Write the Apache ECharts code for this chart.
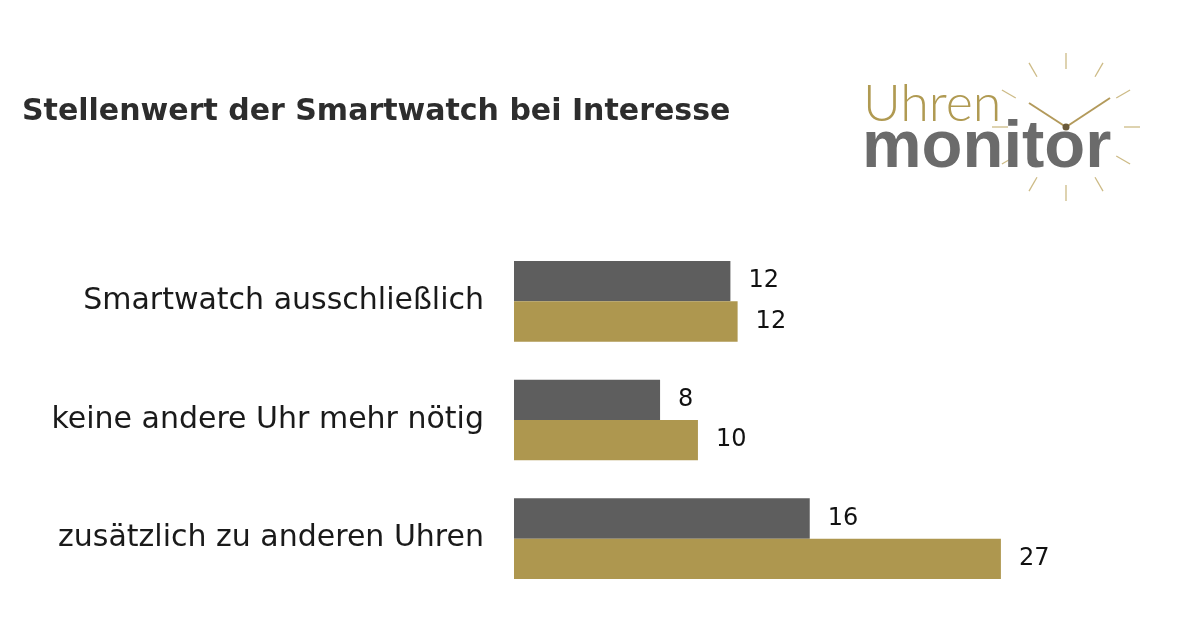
<!DOCTYPE html>
<html><head><meta charset="utf-8">
<script src="https://cdn.jsdelivr.net/npm/echarts@6/dist/echarts.min.js"></script>
<style>html,body{margin:0;padding:0;background:#fff}#c{width:1200px;height:630px}</style>
</head><body><div id="c"></div>
<script>
const title = "Stellenwert der Smartwatch bei Interesse";
const categories = ["Smartwatch ausschließlich", "keine andere Uhr mehr nötig", "zusätzlich zu anderen Uhren"];
const seriesGray = [12.0, 8.1, 16.4];
const seriesGold = [12.4, 10.2, 27.0];
const xMax = 30;

const chart = echarts.init(document.getElementById('c'));
const F = '"DejaVu Sans", sans-serif';
const cx = 1066, cy = 127;
const rays = [];
for (let i = 0; i < 12; i++) {
  const a = i * Math.PI / 6;
  rays.push({type:'line', shape:{x1:cx+58*Math.sin(a), y1:cy-58*Math.cos(a), x2:cx+74*Math.sin(a), y2:cy-74*Math.cos(a)},
    style:{stroke:'#cdbb86', lineWidth:1.3}, z:1});
}
const labelStyle = {show:true, position:'right', distance:18, color:'#111', fontSize:24, fontFamily:F,
  formatter: p => Math.round(p.value)};
chart.setOption({
  animation:false,
  backgroundColor:'#fff',
  title:{text:title, left:17, top:92, textStyle:{fontFamily:F, fontWeight:'bold', fontSize:30, color:'#2d2d2d'}},
  grid:{left:514, width:541, top:242, height:356},
  xAxis:{type:'value', min:0, max:xMax, show:false},
  yAxis:{type:'category', data:categories, inverse:true,
    axisLine:{show:false}, axisTick:{show:false},
    axisLabel:{margin:30, fontSize:30, fontFamily:F, color:'#1a1a1a'}},
  series:[
    {type:'bar', data:seriesGray, barCategoryGap:'32%', barGap:'0%', itemStyle:{color:'#5e5e5e'}, label:labelStyle},
    {type:'bar', data:seriesGold, barCategoryGap:'32%', barGap:'0%', itemStyle:{color:'#ae974f'}, label:labelStyle}
  ],
  graphic: rays.concat([
    {type:'line', shape:{x1:cx, y1:cy, x2:1029, y2:103}, style:{stroke:'#b39a5b', lineWidth:2}, z:2},
    {type:'line', shape:{x1:cx, y1:cy, x2:1110, y2:98}, style:{stroke:'#b39a5b', lineWidth:2}, z:2},
    {type:'circle', shape:{cx:cx, cy:cy, r:3.5}, style:{fill:'#6b5a3a'}, z:3},
    {type:'text', x:863, y:104, style:{text:'Uhren', fontFamily:'Lato, sans-serif', fontWeight:300, fontSize:52, fill:'#b09a52', verticalAlign:'middle'}, z:4},
    {type:'text', x:862, y:149, style:{text:'monitor', fontFamily:'"Liberation Sans", sans-serif', fontWeight:'bold', fontSize:67, fill:'#6b6b6b', verticalAlign:'middle'}, z:4}
  ])
});
</script></body></html>
